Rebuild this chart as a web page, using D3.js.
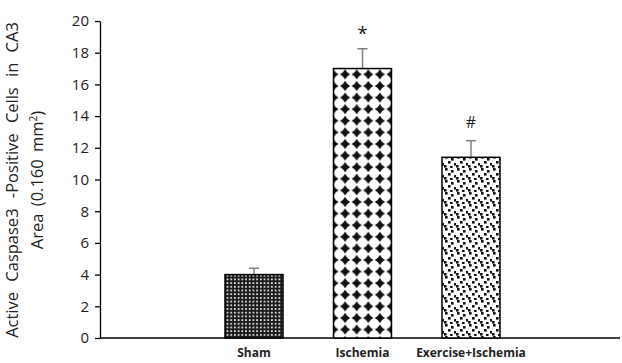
<!DOCTYPE html>
<html><head><meta charset="utf-8">
<script src="https://cdn.jsdelivr.net/npm/d3@7"></script>
<style>body{margin:0;background:#fff}svg{display:block}</style>
</head><body>
<svg id="c" width="622" height="363"></svg>
<script>
const categories = ["Sham", "Ischemia", "Exercise+Ischemia"];
const means = [4.0, 17.0, 11.4];
const errors = [0.4, 1.25, 1.05];
const marks = ["", "*", "#"];
const yTicks = [0, 2, 4, 6, 8, 10, 12, 14, 16, 18, 20];

const FONT = "'Open Sans', 'Noto Sans', sans-serif";
const svg = d3.select("#c");
const defs = svg.append("defs");

const y = d3.scaleLinear().domain([0,20]).range([338,21]);
const x = d3.scalePoint().domain(categories).range([254,471]);
const bw = 58;
const AX = 100;

// Sham: dark weave
const p1 = defs.append("pattern").attr("id","p1").attr("patternUnits","userSpaceOnUse")
  .attr("width",3.7).attr("height",3.7);
p1.append("rect").attr("width",3.7).attr("height",3.7).attr("fill","#1a1a1a");
p1.append("rect").attr("x",1).attr("y",1).attr("width",1.6).attr("height",1.8).attr("fill","#f4f4f4");

// Ischemia: black four-point stars
const s = 11.6, c = s/2, a = 5.1, k = 1.7;
const p2 = defs.append("pattern").attr("id","p2").attr("patternUnits","userSpaceOnUse")
  .attr("width",s).attr("height",s).attr("x",x("Ischemia") - bw/2 - s/2).attr("y",y(means[1]));
p2.append("rect").attr("width",s).attr("height",s).attr("fill","#fff");
p2.append("path").attr("fill","#111").attr("d",
  `M${c-a},${c} Q${c-k},${c-k} ${c},${c-a} Q${c+k},${c-k} ${c+a},${c} Q${c+k},${c+k} ${c},${c+a} Q${c-k},${c+k} ${c-a},${c} Z`);

// Exercise+Ischemia: scattered squares
const p3 = defs.append("pattern").attr("id","p3").attr("patternUnits","userSpaceOnUse")
  .attr("width",12).attr("height",12);
p3.append("rect").attr("width",12).attr("height",12).attr("fill","#fff");
[[1,0],[7,2],[4,5],[10,7],[0,9],[6,10]].forEach(([px,py])=>p3.append("rect").attr("x",px).attr("y",py).attr("width",2.6).attr("height",2.6).attr("fill","#111"));
const fills = ["url(#p1)","url(#p2)","url(#p3)"];

// y axis
const yAx = svg.append("g").attr("transform",`translate(${AX},0)`)
  .call(d3.axisLeft(y).tickValues(yTicks).tickSize(5).tickSizeOuter(0).tickPadding(6));
yAx.select(".domain").attr("stroke","#000").attr("stroke-width",1.3);
yAx.selectAll(".tick line").attr("stroke","#000").attr("stroke-width",1.3);
yAx.selectAll("text").attr("font-family",FONT).attr("font-size",15).attr("fill","#222");

// x axis line
svg.append("line").attr("x1",AX).attr("x2",620).attr("y1",y(0)).attr("y2",y(0))
  .attr("stroke","#000").attr("stroke-width",1.3);

// error bars
const g = svg.append("g");
categories.forEach((cat,i)=>{
  const cx = x(cat);
  g.append("line").attr("x1",cx).attr("x2",cx).attr("y1",y(means[i])).attr("y2",y(means[i]+errors[i]))
    .attr("stroke","#808080").attr("stroke-width",1.5);
  g.append("line").attr("x1",cx-5).attr("x2",cx+5).attr("y1",y(means[i]+errors[i])).attr("y2",y(means[i]+errors[i]))
    .attr("stroke","#808080").attr("stroke-width",1.5);
});

// bars
g.selectAll("rect.bar").data(categories).join("rect").attr("class","bar")
  .attr("x",d=>x(d)-bw/2).attr("width",bw)
  .attr("y",(d,i)=>y(means[i])).attr("height",(d,i)=>y(0)-y(means[i]))
  .attr("fill",(d,i)=>fills[i]).attr("stroke","#000").attr("stroke-width",1.5);

// significance marks
g.selectAll("text.mk").data(categories).join("text").attr("class","mk")
  .attr("x",d=>x(d)).attr("y",(d,i)=>y(means[i]+errors[i])-(i===1?9:13))
  .attr("text-anchor","middle").attr("font-family",FONT)
  .attr("font-size",(d,i)=>i===1?19:16).attr("fill","#222")
  .text((d,i)=>marks[i]);

// category labels
g.selectAll("text.cat").data(categories).join("text").attr("class","cat")
  .attr("x",d=>x(d)).attr("y",357).attr("text-anchor","middle")
  .attr("font-family",FONT).attr("font-weight","bold")
  .attr("font-size",12).attr("fill","#222").text(d=>d);

// y label
const yl = svg.append("text").attr("transform","translate(0,180) rotate(-90)")
  .attr("text-anchor","middle").attr("font-family",FONT)
  .attr("font-size",16.5).attr("fill","#222").style("word-spacing","6px");
yl.append("tspan").attr("x",0).attr("y",18).text("Active Caspase3 -Positive Cells in CA3");
const t2 = svg.append("text").attr("transform","translate(0,180) rotate(-90)")
  .attr("text-anchor","middle").attr("font-family",FONT).attr("font-size",16.5).attr("fill","#222")
  .style("word-spacing","3px");
t2.append("tspan").attr("x",0).attr("y",43).text("Area (0.160 mm");
t2.append("tspan").attr("dy",-6).attr("font-size",10).text("2");
t2.append("tspan").attr("dy",6).text(")");
</script>
</body></html>
